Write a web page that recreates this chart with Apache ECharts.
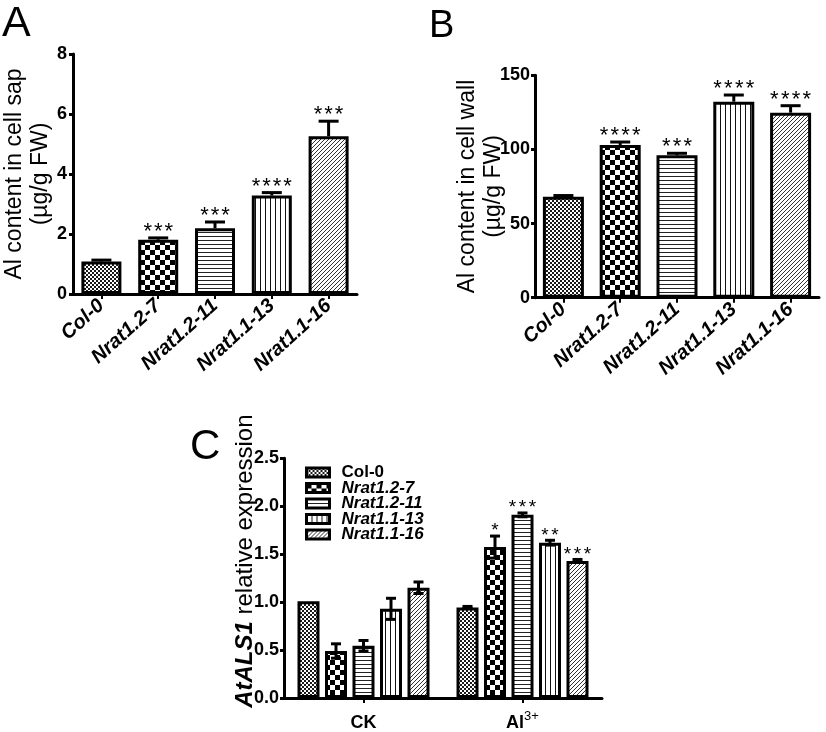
<!DOCTYPE html>
<html><head><meta charset="utf-8">
<script src="https://cdn.jsdelivr.net/npm/echarts@6/dist/echarts.min.js"></script>
<style>html,body{margin:0;padding:0;background:#fff}#c{width:826px;height:732px}</style>
</head><body><div id="c"></div>
<script>
// ---------- data ----------
const lines = ['Col-0', 'Nrat1.2-7', 'Nrat1.2-11', 'Nrat1.1-13', 'Nrat1.1-16'];
// Panel A: Al content in cell sap
const sapValues = [1.08, 1.81, 2.19, 3.28, 5.26];
const sapErrors = [0.05, 0.06, 0.21, 0.10, 0.50];
const sapStars  = ['', '***', '***', '****', '***'];
const sapTicks  = [0, 2, 4, 6, 8];
// Panel B: Al content in cell wall
const wallValues = [68.1, 103.0, 96.0, 132.2, 124.8];
const wallErrors = [0.8, 2.0, 1.4, 4.5, 4.7];
const wallStars  = ['', '****', '***', '****', '****'];
const wallTicks  = [0, 50, 100, 150];
// Panel C: AtALS1 relative expression
const treatments = ['CK', 'Al3+'];
const exprCol0     = [1.01, 0.945];
const exprNrat127  = [0.49, 1.574];
const exprNrat1211 = [0.545, 1.91];
const exprNrat1113 = [0.93, 1.62];
const exprNrat1116 = [1.15, 1.43];
const errCol0     = [0, 0.01];
const errNrat127  = [0.075, 0.115];
const errNrat1211 = [0.055, 0.02];
const errNrat1113 = [0.11, 0.025];
const errNrat1116 = [0.06, 0.015];
const starsCol0     = ['', ''];
const starsNrat127  = ['', '*'];
const starsNrat1211 = ['', '***'];
const starsNrat1113 = ['', '**'];
const starsNrat1116 = ['', '***'];
const exprTicks = [0, 0.5, 1.0, 1.5, 2.0, 2.5];

// ---------- styling helpers ----------
const FONT = '"Liberation Sans", Arial, Helvetica, sans-serif';

function pattern(type) {
  const c = document.createElement('canvas');
  let ctx;
  if (type === 0) { // fine checker
    c.width = c.height = 4; ctx = c.getContext('2d');
    ctx.fillStyle = '#fff'; ctx.fillRect(0, 0, 4, 4);
    ctx.fillStyle = '#1a1a1a'; ctx.fillRect(0, 0, 2, 2); ctx.fillRect(2, 2, 2, 2);
  } else if (type === 1) { // coarse checker
    c.width = c.height = 10; ctx = c.getContext('2d');
    ctx.fillStyle = '#fff'; ctx.fillRect(0, 0, 10, 10);
    ctx.fillStyle = '#000'; ctx.fillRect(0, 0, 5, 5); ctx.fillRect(5, 5, 5, 5);
  } else if (type === 2) { // horizontal lines
    c.width = 4; c.height = 4; ctx = c.getContext('2d');
    ctx.fillStyle = '#fff'; ctx.fillRect(0, 0, 4, 4);
    ctx.fillStyle = '#222'; ctx.fillRect(0, 0, 4, 1);
  } else if (type === 3) { // vertical lines
    c.width = 5; c.height = 4; ctx = c.getContext('2d');
    ctx.fillStyle = '#fff'; ctx.fillRect(0, 0, 5, 4);
    ctx.fillStyle = '#111'; ctx.fillRect(0, 0, 1, 4);
  } else { // diagonal lines
    c.width = c.height = 4; ctx = c.getContext('2d');
    ctx.fillStyle = '#fff'; ctx.fillRect(0, 0, 4, 4);
    ctx.fillStyle = '#333';
    for (let k = 0; k < 4; k++) ctx.fillRect(k, 3 - k, 1, 1);
  }
  return { image: c, repeat: 'repeat' };
}
const patterns = [0, 1, 2, 3, 4].map(pattern);

function errRender(starsArr, cfg) {
  return function (params, api) {
    const idx = api.value(0), v = api.value(1), e = api.value(2);
    const top = api.coord([idx, v + e]);
    const low = api.coord([idx, cfg.both ? v - e : v]);
    const x = top[0] + (cfg.offset || 0);
    const ls = { stroke: '#000', lineWidth: cfg.lw };
    const ch = [];
    if (e > 0) {
      ch.push({ type: 'line', shape: { x1: x, y1: low[1], x2: x, y2: top[1] }, style: ls });
      ch.push({ type: 'line', shape: { x1: x - cfg.cap / 2, y1: top[1], x2: x + cfg.cap / 2, y2: top[1] }, style: ls });
      if (cfg.both) ch.push({ type: 'line', shape: { x1: x - cfg.cap / 2, y1: low[1], x2: x + cfg.cap / 2, y2: low[1] }, style: ls });
    }
    const s = starsArr[params.dataIndex] || '';
    const n = s.length;
    for (let k = 0; k < n; k++) {
      ch.push({ type: 'text', x: x + (k - (n - 1) / 2) * cfg.sp, y: top[1] - cfg.above,
        style: { text: '*', fontSize: cfg.fs, fontFamily: FONT, fill: '#000', align: 'center', verticalAlign: 'middle' } });
    }
    return { type: 'group', children: ch };
  };
}

const axisLine = { show: true, lineStyle: { color: '#000', width: 3 } };
const yTick = { show: true, length: 4, lineStyle: { color: '#000', width: 3 } };
const xTick = { show: true, alignWithLabel: true, length: 5, lineStyle: { color: '#000', width: 2 } };
const yLabel = { color: '#000', fontSize: 18, fontWeight: 'bold', fontFamily: FONT, margin: 6 };
const xLabelAB = { color: '#000', fontSize: 20, fontWeight: 'bold', fontStyle: 'italic', fontFamily: FONT,
  rotate: 42, interval: 0, margin: 9 };

const cSeriesNames = lines;
const cValues = [exprCol0, exprNrat127, exprNrat1211, exprNrat1113, exprNrat1116];
const cErrors = [errCol0, errNrat127, errNrat1211, errNrat1113, errNrat1116];
const cStars  = [starsCol0, starsNrat127, starsNrat1211, starsNrat1113, starsNrat1116];

const series = [];
// Panel A
series.push({ type: 'bar', xAxisIndex: 0, yAxisIndex: 0, barWidth: 40,
  itemStyle: { borderColor: '#000', borderWidth: 3 },
  data: sapValues.map((v, i) => ({ value: v, itemStyle: { color: patterns[i] } })) });
series.push({ type: 'custom', xAxisIndex: 0, yAxisIndex: 0, z: 5,
  renderItem: errRender(sapStars, { lw: 3, cap: 20, fs: 22, sp: 10.5, above: 6 }),
  encode: { x: 0, y: 1 }, data: sapValues.map((v, i) => [i, v, sapErrors[i]]) });
// Panel B
series.push({ type: 'bar', xAxisIndex: 1, yAxisIndex: 1, barWidth: 41,
  itemStyle: { borderColor: '#000', borderWidth: 3 },
  data: wallValues.map((v, i) => ({ value: v, itemStyle: { color: patterns[i] } })) });
series.push({ type: 'custom', xAxisIndex: 1, yAxisIndex: 1, z: 5,
  renderItem: errRender(wallStars, { lw: 3, cap: 20, fs: 22, sp: 10.8, above: 6 }),
  encode: { x: 0, y: 1 }, data: wallValues.map((v, i) => [i, v, wallErrors[i]]) });
// Panel C
cSeriesNames.forEach((name, k) => {
  series.push({ type: 'bar', name: name, xAxisIndex: 2, yAxisIndex: 2, barWidth: 22, barGap: '25%',
    itemStyle: { color: patterns[k], borderColor: '#000', borderWidth: 3 },
    data: cValues[k] });
});
cSeriesNames.forEach((name, k) => {
  series.push({ type: 'custom', xAxisIndex: 2, yAxisIndex: 2, z: 5,
    renderItem: errRender(cStars[k], { lw: 3, cap: 10, fs: 19, sp: 10, above: 5, both: true, offset: (k - 2) * 27.5 }),
    encode: { x: 0, y: 1 }, data: cValues[k].map((v, i) => [i, v, cErrors[k][i]]) });
});

const option = {
  backgroundColor: '#fff',
  animation: false,
  textStyle: { fontFamily: FONT, color: '#000' },
  grid: [
    { left: 72, top: 54, width: 285, height: 240 },
    { left: 535, top: 75.3, width: 284, height: 222.4 },
    { left: 284, top: 458.3, width: 318, height: 247.7 }
  ],
  xAxis: [
    { type: 'category', gridIndex: 0, data: lines, axisLine, axisTick: xTick, axisLabel: xLabelAB },
    { type: 'category', gridIndex: 1, data: lines, axisLine, axisTick: xTick, axisLabel: xLabelAB },
    { type: 'category', gridIndex: 2, data: treatments, axisLine, axisTick: xTick,
      axisLabel: { color: '#000', fontFamily: FONT, margin: 12, interval: 0,
        formatter: v => v === 'Al3+' ? '{b|Al}{s|3+}' : '{b|' + v + '}',
        rich: { b: { fontSize: 18, fontWeight: 'bold', fontFamily: FONT, color: '#000', lineHeight: 22, verticalAlign: 'bottom' },
                s: { fontSize: 13, fontFamily: FONT, color: '#000', lineHeight: 13, verticalAlign: 'top' } } } }
  ],
  yAxis: [
    { type: 'value', gridIndex: 0, min: sapTicks[0], max: sapTicks[sapTicks.length - 1], interval: sapTicks[1] - sapTicks[0],
      axisLine, axisTick: yTick, axisLabel: yLabel, splitLine: { show: false },
      name: 'Al content in cell sap\n(µg/g FW)', nameLocation: 'middle', nameRotate: 90, nameGap: 19, nameMoveOverlap: false,
      nameTextStyle: { fontSize: 23, lineHeight: 26.5, color: '#000', fontFamily: FONT } },
    { type: 'value', gridIndex: 1, min: wallTicks[0], max: wallTicks[wallTicks.length - 1], interval: wallTicks[1] - wallTicks[0],
      axisLine, axisTick: yTick, axisLabel: Object.assign({}, yLabel, { margin: 5 }), splitLine: { show: false },
      name: 'Al content in cell wall\n(µg/g FW)', nameLocation: 'middle', nameRotate: 90, nameGap: 28, nameMoveOverlap: false,
      nameTextStyle: { fontSize: 23, lineHeight: 26.5, color: '#000', fontFamily: FONT } },
    { type: 'value', gridIndex: 2, min: exprTicks[0], max: exprTicks[exprTicks.length - 1], interval: exprTicks[1] - exprTicks[0],
      axisLine, axisTick: yTick, axisLabel: Object.assign({}, yLabel, { margin: 5, formatter: v => v.toFixed(1) }), splitLine: { show: false },
      name: '{a|AtALS1} relative expression', nameLocation: 'middle', nameRotate: 90, nameGap: 27, nameMoveOverlap: false,
      nameTextStyle: { fontSize: 24, color: '#000', fontFamily: FONT, padding: [0, 0, 0, 34],
        rich: { a: { fontSize: 24, fontWeight: 'bold', fontStyle: 'italic', fontFamily: FONT, color: '#000' } } } }
  ],
  legend: {
    data: cSeriesNames, orient: 'vertical', left: 300, top: 459,
    itemWidth: 23, itemHeight: 9, itemGap: -1.5, icon: 'rect',
    itemStyle: { borderColor: '#000', borderWidth: 3 },
    formatter: n => n === 'Col-0' ? '{n|' + n + '}' : '{i|' + n + '}',
    textStyle: { fontSize: 17, fontFamily: FONT, color: '#000', lineHeight: 13, padding: [0, 0, 0, 7],
      rich: { n: { fontSize: 17, fontWeight: 'bold', fontFamily: FONT, color: '#000', lineHeight: 13 },
              i: { fontSize: 17, fontWeight: 'bold', fontStyle: 'italic', fontFamily: FONT, color: '#000', lineHeight: 13 } } }
  },
  graphic: [
    { type: 'text', left: 2, top: 3, style: { text: 'A', fontSize: 43, fontFamily: FONT, fill: '#000' } },
    { type: 'text', left: 429, top: 8, style: { text: 'B', fontSize: 38, fontFamily: FONT, fill: '#000' } },
    { type: 'text', left: 190, top: 426, style: { text: 'C', fontSize: 42, fontFamily: FONT, fill: '#000' } }
  ],
  series
};
const chart = echarts.init(document.getElementById('c'), null, { renderer: 'canvas' });
chart.setOption(option);
</script></body></html>
